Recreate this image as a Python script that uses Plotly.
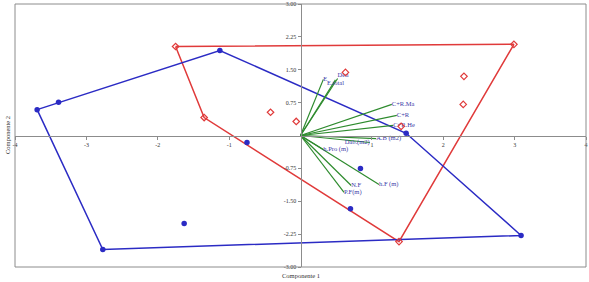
import plotly.graph_objects as go

# ---- data ----
red_x = [-1.75, 2.99, 1.38, -1.35, 0.63, -0.42, -0.06, 2.29, 2.28, 1.41]
red_y = [2.03, 2.08, -2.42, 0.41, 1.44, 0.53, 0.32, 1.35, 0.71, 0.21]
red_hull = [0, 1, 2, 3, 0]

blue_x = [-3.69, -3.39, -1.13, 1.48, 3.09, -2.77, -0.75, 0.84, 0.70, -1.63]
blue_y = [0.59, 0.76, 1.94, 0.05, -2.28, -2.60, -0.16, -0.75, -1.67, -2.01]
blue_hull = [0, 2, 3, 4, 5, 0]

vec_names = ["E", "E.total", "Den", "C+R.Ma", "C+R", "C+R.He", "A.B (m2)",
             "Dab.(m2)", "h.Pro (m)", "h.F (m)", "N.F", "P.F(m)"]
vec_x = [0.32, 0.49, 0.52, 1.28, 1.35, 1.30, 1.06, 0.97, 0.32, 1.10, 0.71, 0.61]
vec_y = [1.28, 1.27, 1.30, 0.71, 0.46, 0.23, -0.07, -0.16, -0.32, -1.12, -1.14, -1.30]
vec_pos = ["middle right", "bottom center", "top right", "middle right", "middle right",
           "middle right", "middle right", "middle left", "middle right", "middle right",
           "middle right", "middle right"]

x_ticks = [-4, -3, -2, -1, 1, 2, 3, 4]
x_ticktext = ["-4", "-3", "-2", "-1", "1", "2", "3", "4"]
y_ticks = [3.0, 2.25, 1.5, 0.75, -0.75, -1.5, -2.25, -3.0]
y_ticktext = ["3.00", "2.25", "1.50", "0.75", "-0.75", "-1.50", "-2.25", "-3.00"]

RED = "#e03a3a"
BLUE = "#2b2bc4"
GREEN = "#2e8b2e"
LABEL = "#3a3aa8"
FONT = "Liberation Serif"

fig = go.Figure()

# hulls
fig.add_trace(go.Scatter(x=[red_x[i] for i in red_hull], y=[red_y[i] for i in red_hull],
                         mode="lines", line=dict(color=RED, width=1.5), hoverinfo="skip"))
fig.add_trace(go.Scatter(x=[blue_x[i] for i in blue_hull], y=[blue_y[i] for i in blue_hull],
                         mode="lines", line=dict(color=BLUE, width=1.5), hoverinfo="skip"))

# vectors
for nx, ny in zip(vec_x, vec_y):
    fig.add_trace(go.Scatter(x=[0, nx], y=[0, ny], mode="lines",
                             line=dict(color=GREEN, width=1.2), hoverinfo="skip"))
fig.add_trace(go.Scatter(x=vec_x, y=vec_y, mode="text", text=vec_names,
                         textposition=vec_pos, cliponaxis=False,
                         textfont=dict(family=FONT, size=6.5, color=LABEL)))

# points
fig.add_trace(go.Scatter(x=red_x, y=red_y, mode="markers", cliponaxis=False,
                         marker=dict(symbol="diamond-open", size=5, color=RED,
                                     line=dict(width=1.2, color=RED))))
fig.add_trace(go.Scatter(x=blue_x, y=blue_y, mode="markers", cliponaxis=False,
                         marker=dict(symbol="circle", size=5.5, color=BLUE)))

axis_common = dict(showgrid=False, zeroline=False, showline=True, linecolor="#8c8c8c",
                   linewidth=1, ticks="outside", ticklen=3, tickcolor="#8c8c8c",
                   tickfont=dict(family=FONT, size=6, color="#333333"),
                   anchor="free", position=0.5, automargin=False)

fig.update_layout(
    width=589, height=282,
    margin=dict(l=15, r=3, t=4, b=15, autoexpand=False),
    paper_bgcolor="white", plot_bgcolor="white",
    showlegend=False,
    xaxis=dict(range=[-4, 4], tickvals=x_ticks, ticktext=x_ticktext, **axis_common),
    yaxis=dict(range=[-3, 3], tickvals=y_ticks, ticktext=y_ticktext, **axis_common),
    shapes=[dict(type="rect", xref="paper", yref="paper", x0=0, y0=0, x1=1, y1=1,
                 line=dict(color="#8c8c8c", width=1))],
    annotations=[
        dict(text="Componente 1", xref="paper", yref="paper", x=0.5, y=0,
             xanchor="center", yanchor="top", yshift=-3, showarrow=False,
             font=dict(family=FONT, size=6.5, color="#333333")),
        dict(text="Componente 2", xref="paper", yref="paper", x=0, y=0.5,
             xanchor="right", yanchor="middle", xshift=-2, textangle=-90, showarrow=False,
             font=dict(family=FONT, size=6.5, color="#333333")),
    ],
)

fig.write_html("out.html", config={"displayModeBar": False},
               post_script="document.body.style.margin='0px';document.body.style.overflow='hidden';")
